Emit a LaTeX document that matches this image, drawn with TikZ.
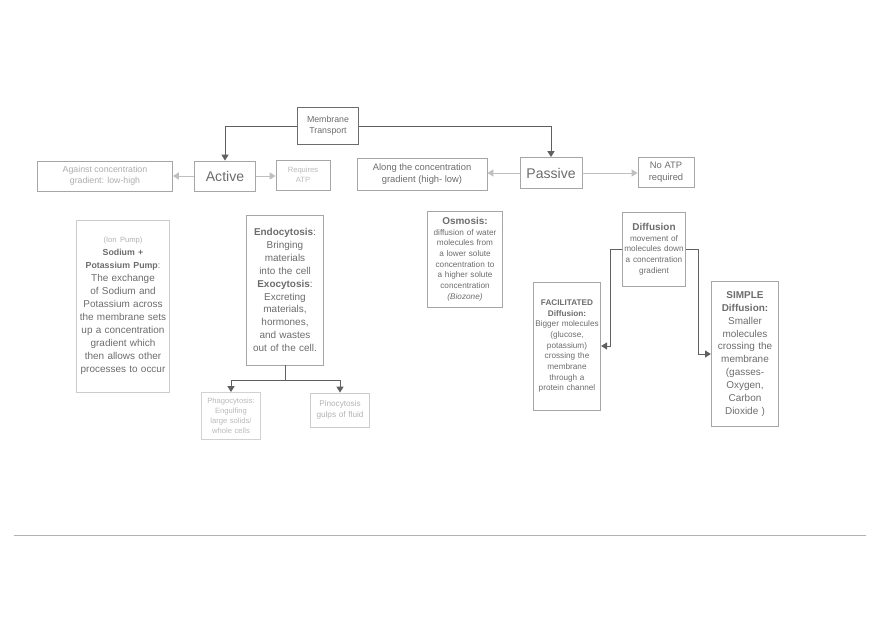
\documentclass[tikz,border=0pt]{standalone}
\usepackage{fontspec}
\setmainfont{Liberation Sans}
\usetikzlibrary{arrows.meta}
\hyphenpenalty=10000
\tikzset{
  box/.style={draw=gray!70, thick, text=gray!85!black, align=center, inner sep=1pt},
  link/.style={draw=gray!75!black, thick, -{Triangle[width=6pt,length=5pt]}},
  fs/.style={font=\fontsize{#1pt}{\dimexpr#1pt*13/10\relax}\selectfont}
}
\begin{document}
\begin{tikzpicture}[x=0.03cm, y=-0.03cm]
\useasboundingbox (0,0) rectangle (880,621);
%top
\node[box, fs=7.5, minimum width=61*0.03cm, minimum height=37*0.03cm, draw=gray!85!black] (mt) at (328,126) {Membrane\\Transport};
\node[box, fs=12, minimum width=61*0.03cm, minimum height=30*0.03cm] (act) at (225,176) {Active};
\node[box, fs=12, minimum width=62*0.03cm, minimum height=31*0.03cm] (pas) at (551,173) {Passive};
\node[box, fs=7.5, minimum width=135*0.03cm, minimum height=30*0.03cm, text=gray!65] (ag) at (105,176) {Against concentration\\gradient: low-high};
\node[box, fs=6.5, minimum width=54*0.03cm, minimum height=30*0.03cm, text=gray!55] (req) at (303,175) {Requires\\ATP};
\node[box, fs=8, minimum width=130*0.03cm, minimum height=32*0.03cm] (al) at (422,174) {Along the concentration\\gradient (high- low)};
\node[box, fs=8, minimum width=56*0.03cm, minimum height=30*0.03cm] (no) at (666,172) {No ATP\\required};
%active side
\node[box, fs=8.5, text width=90*0.03cm, minimum height=172*0.03cm, draw=gray!40] (ion) at (123,306)
  {{\fontsize{6.5pt}{9pt}\selectfont\color{gray!60}(Ion Pump)}\\{\fontsize{7.5pt}{11pt}\selectfont\textbf{Sodium + Potassium Pump}:}\\The exchange of Sodium and Potassium across the membrane sets up a concentration gradient which then allows other processes to occur\\[6pt]};
\node[box, fs=8.5, text width=74*0.03cm, minimum height=150*0.03cm] (endo) at (285,290)
  {\textbf{Endocytosis}:\\Bringing materials into the cell\\\textbf{Exocytosis}:\\Excreting materials, hormones, and wastes out of the cell.};
\node[box, fs=6.5, text width=56*0.03cm, minimum height=47*0.03cm, draw=gray!35, text=gray!55] (pha) at (231,416) {Phagocytosis:\\Engulfing large solids/\\whole cells};
\node[box, fs=7, text width=57*0.03cm, minimum height=34*0.03cm, draw=gray!40, text=gray!60] (pin) at (340,410) {Pinocytosis\\gulps of fluid};
%passive side
\node[box, fs=7, text width=72*0.03cm, minimum height=96*0.03cm] (osm) at (465,259)
  {{\fontsize{8.5pt}{10pt}\selectfont\textbf{Osmosis:}}\\diffusion of water molecules from a lower solute concentration to a higher solute concentration\\\textit{(Biozone)}};
\node[box, fs=7, text width=60*0.03cm, minimum height=74*0.03cm] (dif) at (654,249)
  {{\fontsize{8.5pt}{10pt}\selectfont\textbf{Diffusion}}\\movement of molecules down a concentration gradient};
\node[box, fs=7, text width=65*0.03cm, minimum height=128*0.03cm] (fac) at (567,346)
  {\textbf{FACILITATED Diffusion:}\\Bigger molecules (glucose, potassium) crossing the membrane through a protein channel};
\node[box, fs=8.5, text width=65*0.03cm, minimum height=145*0.03cm] (sim) at (745,354)
  {\textbf{SIMPLE Diffusion:}\\Smaller molecules crossing the membrane (gasses- Oxygen, Carbon Dioxide )};
%links
\draw[link] (mt.west) -| (act.north);
\draw[link] (mt.east) -| (pas.north);
\draw[link, draw=gray!50] (act.west) -- (act.west -| ag.east);
\draw[link, draw=gray!50] (act.east) -- (act.east -| req.west);
\draw[link, draw=gray!50] (pas.west) -- (pas.west -| al.east);
\draw[link, draw=gray!50] (pas.east) -- (pas.east -| no.west);
\draw[thick, draw=gray!75!black] (endo.south) -- ++(0,15) coordinate (ej);
\draw[link] (ej) -| (pha.north);
\draw[link] (ej) -| (pin.north);
\draw[link] (dif.west) -- ++(-12,0) |- (fac.east);
\draw[link] (dif.east) -- ++(13,0) |- (sim.west);
\draw[draw=gray!60] (14,535) -- (866,535);
\end{tikzpicture}
\end{document}
